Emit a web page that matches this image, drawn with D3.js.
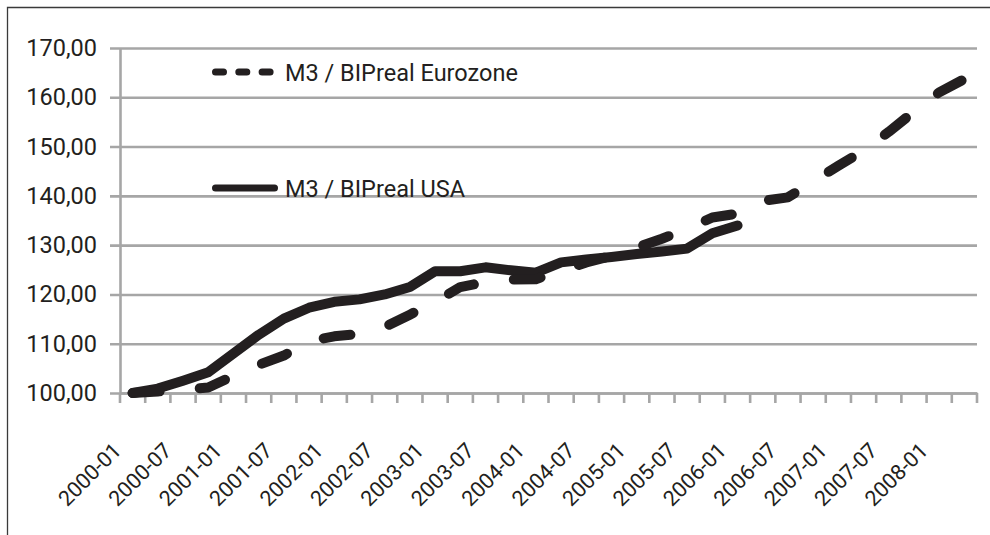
<!DOCTYPE html>
<html>
<head>
<meta charset="utf-8">
<script src="https://cdn.jsdelivr.net/npm/d3@7"></script>
<style>
  html, body { margin: 0; padding: 0; background: #ffffff; }
  svg { display: block; }
  text { font-family: Roboto, "Noto Sans", sans-serif; fill: #231f20; }
</style>
</head>
<body>
<svg id="chart" width="990" height="535"></svg>
<script>
// ---- data ----
const categories = [
  "2000-01","2000-04","2000-07","2000-10",
  "2001-01","2001-04","2001-07","2001-10",
  "2002-01","2002-04","2002-07","2002-10",
  "2003-01","2003-04","2003-07","2003-10",
  "2004-01","2004-04","2004-07","2004-10",
  "2005-01","2005-04","2005-07","2005-10",
  "2006-01","2006-04","2006-07","2006-10",
  "2007-01","2007-04","2007-07","2007-10",
  "2008-01","2008-04"
];
const xTickLabels = [
  "2000-01","2000-07","2001-01","2001-07","2002-01","2002-07",
  "2003-01","2003-07","2004-01","2004-07","2005-01","2005-07",
  "2006-01","2006-07","2007-01","2007-07","2008-01"
];
const euroValues = [
  100.0, 100.3, 100.7, 101.1,
  103.5, 105.7, 107.6, 110.5,
  111.5, 112.0, 113.4, 115.9,
  118.5, 121.5, 122.5, 123.0,
  123.1, 124.8, 126.5, 127.8,
  129.5, 131.3, 133.3, 135.6,
  136.4, 139.0, 139.7, 142.9,
  146.1, 149.2, 153.0, 157.1,
  161.0, 163.7
];
const usaValues = [
  100.0, 100.9, 102.5, 104.2,
  108.0, 111.8, 115.1, 117.3,
  118.5, 119.0, 120.0, 121.5,
  124.7, 124.7, 125.5, 124.9,
  124.4, 126.5, 127.1, 127.6,
  128.2, 128.7, 129.3, 132.4,
  134.0
];
const yTicks = [100, 110, 120, 130, 140, 150, 160, 170];
const seriesNames = ["M3 / BIPreal Eurozone", "M3 / BIPreal USA"];

// ---- layout ----
const svg = d3.select("#chart");
const plot = { left: 120, right: 977, top: 48, bottom: 393 };
const gridColor = "#a6a6a6";
const ink = "#231f20";

svg.append("rect").attr("width", 990).attr("height", 535).attr("fill", "#fff");

// outer frame (cropped on right/bottom)
svg.append("path")
  .attr("d", "M7.5,535 L7.5,7.5 L990,7.5")
  .attr("fill", "none").attr("stroke", "#3a3a3a").attr("stroke-width", 1.3);

const x = d3.scaleBand().domain(categories).range([plot.left, plot.right]).paddingInner(0).paddingOuter(0);
const y = d3.scaleLinear().domain([100, 170]).range([plot.bottom, plot.top]);
const cx = c => x(c) + x.bandwidth() / 2;

const locale = d3.formatLocale({ decimal: ",", thousands: ".", grouping: [3], currency: ["", " €"] });
const fmt = locale.format(".2f");

// y axis with gridlines
const yAxis = d3.axisLeft(y)
  .tickValues(yTicks)
  .tickSizeInner(-(plot.right - plot.left))
  .tickSizeOuter(0)
  .tickPadding(23)
  .tickFormat(fmt);

const gy = svg.append("g").attr("transform", `translate(${plot.left},0)`).call(yAxis);
gy.select(".domain").attr("stroke", gridColor).attr("stroke-width", 2.6);
gy.selectAll(".tick line").attr("stroke", gridColor).attr("stroke-width", 2.6).attr("x1", -10);
gy.selectAll(".tick text")
  .attr("font-size", 23.5)
  .attr("font-family", "Roboto, sans-serif")
  .attr("fill", ink);

// x axis line
const xAxis = d3.axisBottom(x).tickSize(0).tickFormat("");
const gx = svg.append("g").attr("transform", `translate(0,${plot.bottom})`).call(xAxis);
gx.select(".domain").attr("stroke", gridColor).attr("stroke-width", 2.6);

// x tick marks on band boundaries
const boundaries = categories.map(c => x(c)).concat([x(categories[categories.length - 1]) + x.bandwidth()]);
svg.append("g").selectAll("line").data(boundaries).join("line")
  .attr("x1", d => d).attr("x2", d => d)
  .attr("y1", plot.bottom).attr("y2", plot.bottom + 10)
  .attr("stroke", gridColor).attr("stroke-width", 2.6);

// x labels (every other category)
const gl = svg.append("g");
gl.selectAll("text").data(xTickLabels).join("text")
  .attr("transform", d => `translate(${cx(d) - 10},${plot.bottom + 59}) rotate(-45)`)
  .attr("text-anchor", "end")
  .attr("font-size", 21.5)
  .text(d => d);

// lines
const line = d3.line().x((d, i) => cx(categories[i])).y(d => y(d));

svg.append("path")
  .datum(usaValues)
  .attr("d", line)
  .attr("fill", "none").attr("stroke", ink).attr("stroke-width", 10)
  .attr("stroke-linejoin", "round").attr("stroke-linecap", "round");

svg.append("path")
  .datum(euroValues)
  .attr("d", line)
  .attr("fill", "none").attr("stroke", ink).attr("stroke-width", 10)
  .attr("stroke-dasharray", "27,40.3")
  .attr("stroke-linejoin", "round").attr("stroke-linecap", "round");

// legend
const legend = [
  { name: seriesNames[0], dash: "8,15.3", ly: 72, ty: 81 },
  { name: seriesNames[1], dash: null, ly: 188, ty: 197 }
];
const lg = svg.append("g");
lg.selectAll("line").data(legend).join("line")
  .attr("x1", 215.5).attr("x2", 274.5)
  .attr("y1", d => d.ly).attr("y2", d => d.ly)
  .attr("stroke", ink).attr("stroke-width", 7)
  .attr("stroke-linecap", "round")
  .attr("stroke-dasharray", d => d.dash);
lg.selectAll("text").data(legend).join("text")
  .attr("x", 285).attr("y", d => d.ty)
  .attr("font-size", 23.5)
  .text(d => d.name);
</script>
</body>
</html>
